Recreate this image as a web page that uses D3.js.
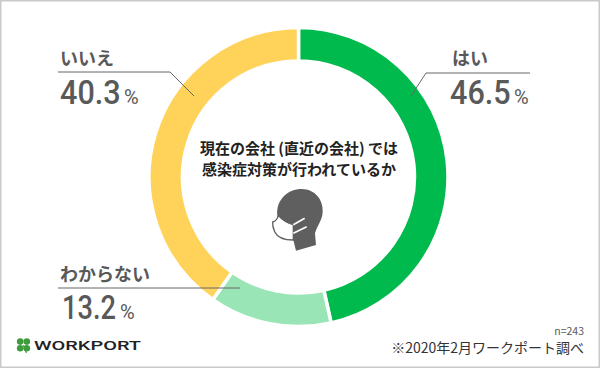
<!DOCTYPE html>
<html>
<head>
<meta charset="utf-8">
<script src="https://cdn.jsdelivr.net/npm/d3@7"></script>
<style>
  html, body { margin: 0; padding: 0; background: #fff; }
  svg { display: block; }
  text { font-family: "Noto Sans CJK JP", sans-serif; }
</style>
</head>
<body>
<svg id="chart" width="600" height="368"></svg>
<script>
const categories = ["はい", "わからない", "いいえ"]
const values = [46.5, 13.2, 40.3]
const colors = ["#00ba4d", "#99e5b6", "#ffd25a"]
const titleLines = ["現在の会社 (直近の会社) では", "感染症対策が行われているか"]
const sampleLabel = "n=243"
const sourceLabel = "※2020年2月ワークポート調べ"

const width = 600
const height = 368
const cx = 298.5
const cy = 177
const grey = "#595959"

const svg = d3.select("#chart")

// frame
svg.append("rect").attr("x", 0.75).attr("y", 0.75).attr("width", width - 1.5).attr("height", height - 1.5)
    .attr("fill", "#fff").attr("stroke", "#c9c9c9").attr("stroke-width", 1.5)

// donut
const pie = d3.pie().sort(null)
const arc = d3.arc().innerRadius(116).outerRadius(149.5)
const ring = svg.append("g").attr("transform", `translate(${cx},${cy})`)
ring.selectAll("path").data(pie(values)).join("path")
    .attr("d", arc)
    .attr("fill", (d, i) => colors[i])
    .attr("stroke", "#fff")
    .attr("stroke-width", 3.5)

// labels and leader lines
const callouts = [
    { i: 0, path: "M530,73 H426 L411,96", lx: 470, ly: 65, px: 450, py: 104, xs: 0.9, sx: 514, anchor: "middle" },
    { i: 2, path: "M58,72 H170 L194,96", lx: 60, ly: 65, px: 60, py: 104, xs: 0.9, sx: 124, anchor: "start" },
    { i: 1, path: "M58,288 H240", lx: 60, ly: 281, px: 62, py: 319, xs: 0.8, sx: 120, anchor: "start" }
]
callouts.forEach(c => {
    svg.append("path").attr("d", c.path).attr("fill", "none").attr("stroke", "#666").attr("stroke-width", 1)
    svg.append("text").attr("x", c.lx).attr("y", c.ly).attr("text-anchor", c.anchor)
        .attr("font-size", 18).attr("font-weight", 700).attr("fill", grey)
        .text(categories[c.i])
    svg.append("text").attr("transform", `translate(${c.px},${c.py}) scale(${c.xs},1)`)
        .attr("font-size", 34).attr("font-weight", 500).attr("fill", grey)
        .style("font-family", "Roboto")
        .text(values[c.i].toFixed(1))
    svg.append("text").attr("x", c.sx).attr("y", c.py)
        .attr("font-size", 20).attr("fill", grey)
        .style("font-family", "Roboto")
        .text("%")
})

// centre title
svg.selectAll("text.title").data(titleLines).join("text")
    .attr("class", "title")
    .attr("x", 299).attr("y", (d, i) => 154 + i * 21)
    .attr("text-anchor", "middle")
    .attr("font-size", 15).attr("font-weight", 700).attr("fill", "#222")
    .text(d => d)

// mask icon
const icon = svg.append("g").attr("transform", "translate(260,180) scale(0.3333)")
icon.append("path")
    .attr("d", "M52,105 C48,58 85,27 125,27 C165,27 190,60 188,95 C187,122 172,135 165,160 L168,195 L108,212 L100,180 L60,150 Z")
    .attr("fill", "#5f5f5f")
icon.append("path")
    .attr("d", "M38,126 C46,124 52,118 55,106 C68,122 86,130 100,134 L100,180 C72,180 52,172 44,155 C40,146 37,136 38,126 Z")
    .attr("fill", "#fff").attr("stroke", "#5f5f5f").attr("stroke-width", 4)
icon.append("path")
    .attr("d", "M100,134 L134,115 M100,160 L140,140")
    .attr("fill", "none").attr("stroke", "#fff").attr("stroke-width", 5)

// logo
const clover = svg.append("g").attr("transform", "translate(23.5,345)").attr("fill", "#3f9b3c")
;[[-3.3, -3.4], [3.3, -3.4], [-3.3, 3.2], [3.3, 3.2]].forEach(p => {
    clover.append("circle").attr("cx", p[0]).attr("cy", p[1]).attr("r", 3.3)
})
clover.append("path").attr("d", "M0,0 Q1,5 3,8").attr("fill", "none").attr("stroke", "#3f9b3c").attr("stroke-width", 1.2)
svg.append("text").attr("x", 34).attr("y", 349.5)
    .attr("font-size", 12.5).attr("font-weight", 500).attr("fill", "#222")
    .attr("textLength", 107).attr("lengthAdjust", "spacingAndGlyphs")
    .style("font-family", "Roboto")
    .text("WORKPORT")

// source notes
svg.append("text").attr("x", 584).attr("y", 335).attr("text-anchor", "end")
    .attr("font-size", 10.5).attr("fill", grey).text(sampleLabel)
svg.append("text").attr("x", 584).attr("y", 353).attr("text-anchor", "end")
    .attr("font-size", 14).attr("fill", "#333").text(sourceLabel)
</script>
</body>
</html>
